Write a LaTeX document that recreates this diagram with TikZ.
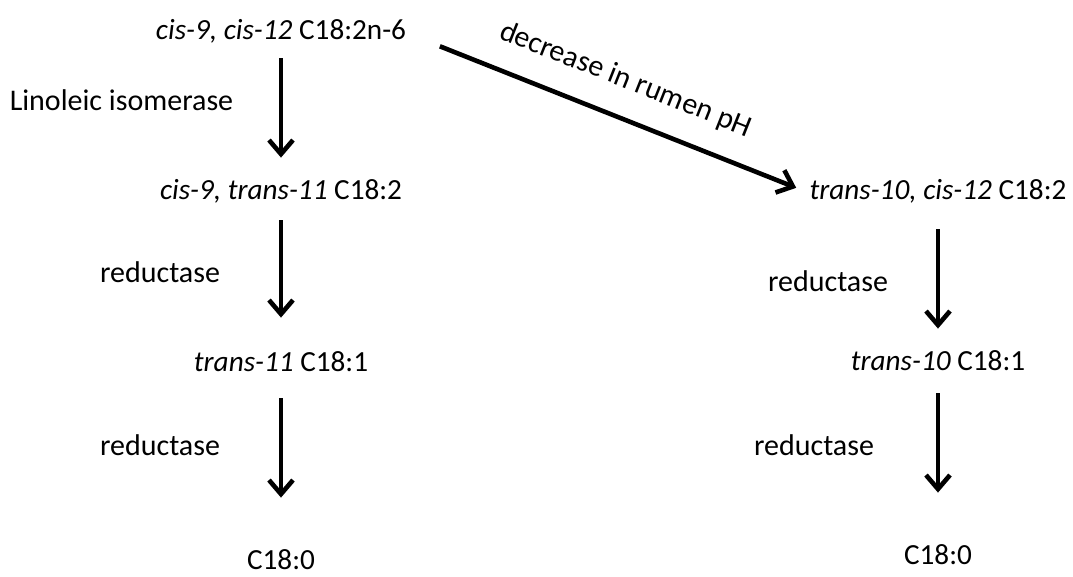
\documentclass[tikz,border=0pt]{standalone}
\usepackage{fontspec}
\setmainfont{Carlito}
\usetikzlibrary{arrows.meta}
\tikzset{
  acid/.style={inner sep=0pt, text height=10pt, text depth=3pt, font=\fontsize{14.6}{18}\selectfont},
  enzyme/.style={inner sep=0pt, font=\fontsize{15}{18}\selectfont},
  conv/.style={line width=2.3pt, -{Straight Barb[length=7pt,width=12pt]}}
}
\begin{document}
\begin{tikzpicture}[x=0.5pt,y=-0.5pt]
  \useasboundingbox (0,0) rectangle (1073,577);
  \node[acid] (lino) at (281,33) {\textit{cis-9, cis-12} C18:2n-6};
  \node[acid] (cla) at (281,193) {\textit{cis-9, trans-11} C18:2};
  \node[acid] (vacc) at (281,365) {\textit{trans-11} C18:1};
  \node[acid] (stearl) at (281,563) {C18:0};
  \node[acid] (tcla) at (938,193) {\textit{trans-10, cis-12} C18:2};
  \node[acid] (tten) at (938,364) {\textit{trans-10} C18:1};
  \node[acid] (stearr) at (938,558) {C18:0};
  \foreach \s/\t/\a/\b in {lino/cla/6pt/11pt,cla/vacc/7pt/17pt,vacc/stearl/10pt/26pt,
                           tcla/tten/11.5pt/11pt,tten/stearr/8pt/26pt}{
    \draw[conv, shorten <=\a, shorten >=\b] (\s) -- (\t);
  }
  \draw[conv, shorten <=18pt, shorten >=7pt] (lino.east) --
    node[enzyme, sloped, above=11pt, pos=0.51] {decrease in rumen pH} (tcla.west);
  \node[enzyme] at (121.5,100) {Linoleic isomerase};
  \node[enzyme] at (160,272) {reductase};
  \node[enzyme] at (160,445) {reductase};
  \node[enzyme] at (828,281) {reductase};
  \node[enzyme] at (814,445) {reductase};
\end{tikzpicture}
\end{document}
